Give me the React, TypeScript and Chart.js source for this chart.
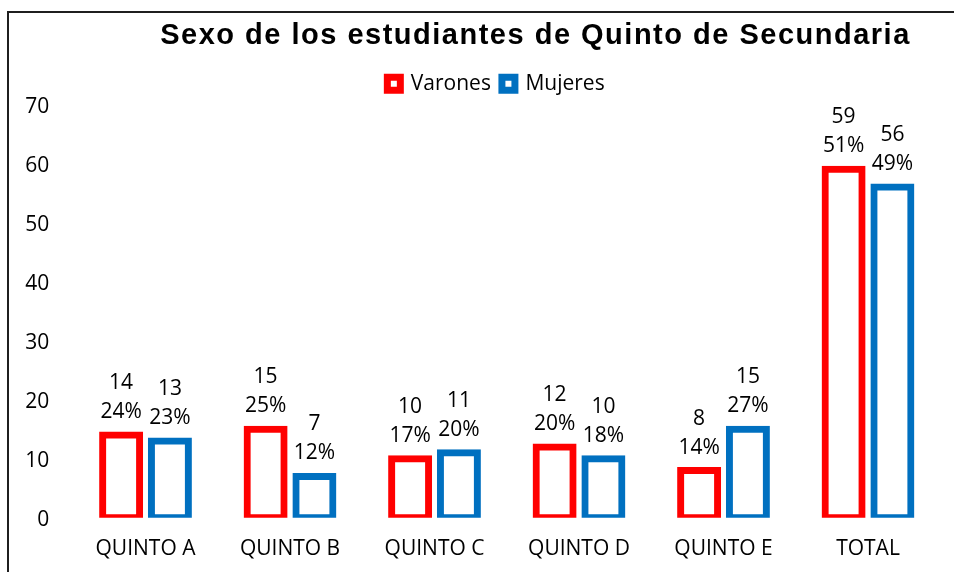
import React, { useEffect, useRef } from 'react';
import { Chart, registerables } from 'chart.js';

Chart.register(...registerables);

const titleText = 'Sexo de los estudiantes de Quinto de Secundaria';
const categories = ['QUINTO A', 'QUINTO B', 'QUINTO C', 'QUINTO D', 'QUINTO E', 'TOTAL'];
const seriesNames = ['Varones', 'Mujeres'];
const varones = [14, 15, 10, 12, 8, 59];
const mujeres = [13, 7, 11, 10, 15, 56];
const varonesPct = ['24%', '25%', '17%', '20%', '14%', '51%'];
const mujeresPct = ['23%', '12%', '20%', '18%', '27%', '49%'];
const yMin = 0;
const yMax = 70;
const yStep = 10;

const RED = '#FF0000';
const BLUE = '#0070C0';
const FONT = '"Open Sans", "Noto Sans", sans-serif';
const FS = 21;

// canvas sits at page (0, 12)
const TITLE_CX = 535.5;
const LEGEND_CX = 496;

const placeBoxes = {
  id: 'placeBoxes',
  afterLayout(chart: any) {
    const t = chart.titleBlock;
    if (t) {
      const dx = TITLE_CX - (t.left + t.right) / 2;
      t.left += dx;
      t.right += dx;
      if (!t.__wrapped) {
        const orig = t.draw;
        t.draw = function (...args: any[]) {
          const ctx = this.ctx;
          ctx.save();
          (ctx as any).letterSpacing = '1.5px';
          orig.apply(this, args);
          ctx.restore();
        };
        t.__wrapped = true;
      }
    }
    const lg = chart.legend;
    if (lg) {
      const dx = LEGEND_CX - (lg.left + lg.right) / 2;
      lg.left += dx;
      lg.right += dx;
    }
  },
};

const pctLists = [varonesPct, mujeresPct];

const valueLabels = {
  id: 'valueLabels',
  afterDatasetsDraw(chart: any) {
    const ctx = chart.ctx;
    ctx.save();
    ctx.font = FS + 'px ' + FONT;
    ctx.fillStyle = '#000';
    ctx.textAlign = 'center';
    ctx.textBaseline = 'middle';
    chart.data.datasets.forEach((ds: any, i: number) => {
      chart.getDatasetMeta(i).data.forEach((el: any, j: number) => {
        ctx.fillText(String(ds.data[j]), el.x, el.y - 52);
        ctx.fillText(pctLists[i][j], el.x, el.y - 23);
      });
    });
    ctx.restore();
  },
};

export default function App() {
  const ref = useRef<HTMLCanvasElement>(null);

  useEffect(() => {
    if (!ref.current) return;
    const chart = new Chart(ref.current, {
      type: 'bar',
      data: {
        labels: categories,
        datasets: [
          {
            label: seriesNames[0],
            data: varones,
            backgroundColor: '#FFFFFF',
            borderColor: RED,
            borderWidth: 7,
            borderSkipped: false,
            inflateAmount: 3.5,
          } as any,
          {
            label: seriesNames[1],
            data: mujeres,
            backgroundColor: '#FFFFFF',
            borderColor: BLUE,
            borderWidth: 7,
            borderSkipped: false,
            inflateAmount: 3.5,
          } as any,
        ],
      },
      options: {
        responsive: false,
        animation: false,
        devicePixelRatio: 1,
        categoryPercentage: 0.6754,
        barPercentage: 0.758,
        layout: { padding: { left: 1.25, right: 13.75, top: 0, bottom: 0 } },
        plugins: {
          title: {
            display: true,
            text: titleText,
            color: '#000',
            font: { family: '"Liberation Sans", Arial, sans-serif', size: 29, weight: 'bold' },
            padding: { top: 6.6, bottom: 8.9 },
          },
          legend: {
            display: true,
            position: 'top',
            labels: {
              color: '#000',
              font: { family: FONT, size: FS },
              boxWidth: 13,
              boxHeight: 13,
              padding: 11,
              generateLabels(chart: any) {
                const items = (Chart.defaults.plugins.legend.labels as any).generateLabels(chart);
                items.forEach((it: any, i: number) => {
                  it.fillStyle = '#FFFFFF';
                  it.strokeStyle = i === 0 ? RED : BLUE;
                  it.lineWidth = 7;
                });
                return items;
              },
            },
          },
          tooltip: { enabled: false },
        },
        scales: {
          x: {
            grid: { display: false, drawTicks: false },
            border: { display: false },
            ticks: { color: '#000', font: { family: FONT, size: FS }, padding: 19 },
          },
          y: {
            min: yMin,
            max: yMax,
            grid: { display: false, drawTicks: false },
            border: { display: false },
            ticks: { stepSize: yStep, color: '#000', font: { family: FONT, size: FS }, padding: 24, labelOffset: 2.5 },
          },
        },
      } as any,
      plugins: [placeBoxes, valueLabels],
    });
    return () => chart.destroy();
  }, []);

  return (
    <div style={{ position: 'fixed', left: 0, top: 0, width: 954, height: 572, overflow: 'hidden', background: '#fff' }}>
      <div
        style={{
          position: 'absolute',
          left: 7,
          top: 11,
          width: 1000,
          height: 600,
          borderTop: '2px solid #1f1f1f',
          borderLeft: '2px solid #1f1f1f',
        }}
      />
      <canvas
        ref={ref}
        width={954}
        height={569}
        style={{ position: 'absolute', left: 0, top: 12, width: 954, height: 569 }}
      />
    </div>
  );
}
